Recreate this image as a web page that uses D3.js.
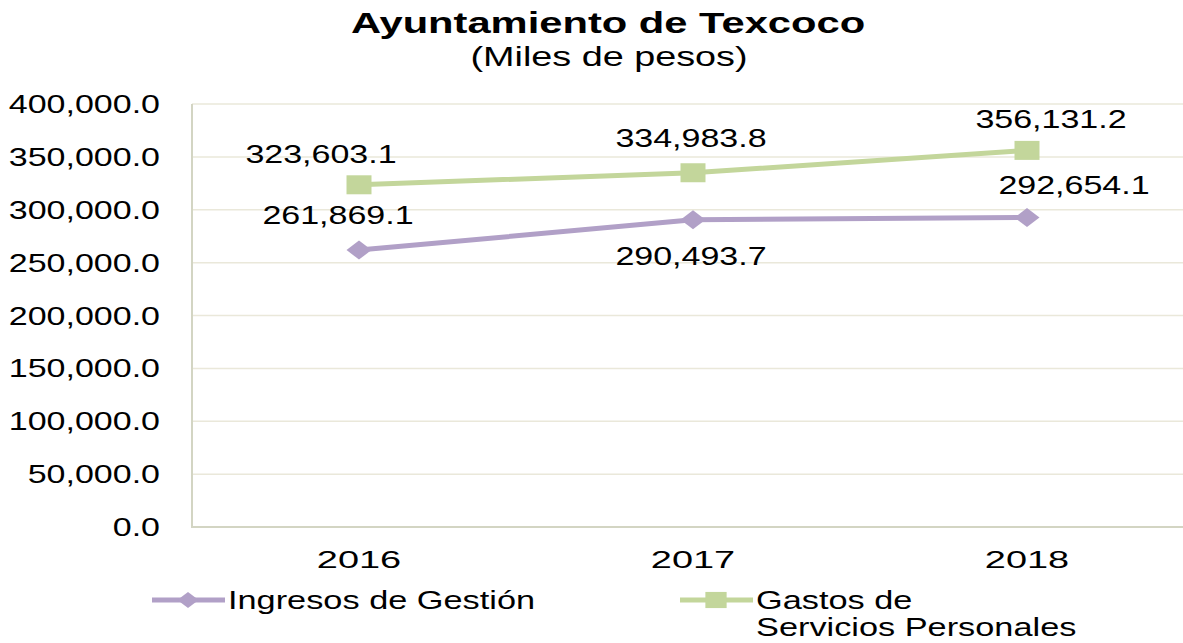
<!DOCTYPE html>
<html>
<head>
<meta charset="utf-8">
<script src="https://cdn.jsdelivr.net/npm/d3@7"></script>
<style>
  body { margin: 0; background: #fff; }
  text { font-family: "Liberation Sans", Arial, sans-serif; fill: #000; }
</style>
</head>
<body>
<svg id="chart" width="1183" height="643"></svg>
<script>
// chart data
const years = ["2016", "2017", "2018"];
const ingresos = [261869.1, 290493.7, 292654.1];
const gastos = [323603.1, 334983.8, 356131.2];
const yTicks = [0, 50000, 100000, 150000, 200000, 250000, 300000, 350000, 400000];
const seriesNames = ["Ingresos de Gestión", "Gastos de Servicios Personales"];

const svg = d3.select("#chart");
const W = 1183, H = 643;
const sx = 1.36; // text in the picture is stretched horizontally

const x = d3.scaleBand().domain(years).range([192, 1194]);
const y = d3.scaleLinear().domain([0, 400000]).range([527, 104]);
const fmt = d3.format(",.1f");

// helper for stretched text
function stretchedText(g, str, px, py, size, anchor, weight, k) {
    return g.append("text")
        .attr("transform", `translate(${px},${py}) scale(${k || sx},1)`)
        .attr("text-anchor", anchor)
        .attr("font-size", size)
        .attr("font-weight", weight || "normal")
        .text(str);
}

// title
stretchedText(svg, "Ayuntamiento de Texcoco", 608, 33, 30, "middle", "bold", 1.39);
stretchedText(svg, "(Miles de pesos)", 609, 66, 27, "middle", "normal", 1.40);

// gridlines
svg.append("g").selectAll("line")
    .data(yTicks.filter(d => d > 0))
    .join("line")
    .attr("x1", 192).attr("x2", W)
    .attr("y1", d => y(d)).attr("y2", d => y(d))
    .attr("stroke", "#EAE8DA").attr("stroke-width", 1.5);

// axes lines
svg.append("line").attr("x1", 192).attr("x2", 192).attr("y1", y(400000)).attr("y2", y(0))
    .attr("stroke", "#D3D5C3").attr("stroke-width", 2);
svg.append("line").attr("x1", 191).attr("x2", W).attr("y1", y(0)).attr("y2", y(0))
    .attr("stroke", "#D3D5C3").attr("stroke-width", 2);

// y tick labels
const yl = svg.append("g");
yTicks.forEach(t => {
    stretchedText(yl, fmt(t), 160, y(t) + 9, 25, "end");
});

// x tick labels
const xl = svg.append("g");
years.forEach(yr => {
    stretchedText(xl, yr, x(yr) + x.bandwidth() / 2, 568, 24, "middle", "normal", 1.58);
});

const cx = d => x(d) + x.bandwidth() / 2;
const line = d3.line().x(d => cx(d.year)).y(d => y(d.value));

const diamond = "M0,-9.5 L12.5,0 L0,9.5 L-12.5,0 Z";
const square = "M-12.5,-9.5 H12.5 V9.5 H-12.5 Z";

const series = [
    { name: seriesNames[0], values: ingresos, color: "#B1A0C7", marker: diamond,
      labelOffsets: [[-21, -26], [-2, 45], [47, -24]] },
    { name: seriesNames[1], values: gastos, color: "#C3D69B", marker: square,
      labelOffsets: [[-38, -22], [-2, -26], [24, -22]] }
];

series.forEach(s => {
    const pts = years.map((yr, i) => ({ year: yr, value: s.values[i] }));
    svg.append("path").datum(pts)
        .attr("d", line)
        .attr("fill", "none")
        .attr("stroke", s.color)
        .attr("stroke-width", 5)
        .attr("stroke-linejoin", "round");
    svg.append("g").selectAll("path")
        .data(pts)
        .join("path")
        .attr("d", s.marker)
        .attr("transform", d => `translate(${cx(d.year)},${y(d.value)})`)
        .attr("fill", s.color);
    const lg = svg.append("g");
    pts.forEach((d, i) => {
        const [dx, dy] = s.labelOffsets[i];
        stretchedText(lg, fmt(d.value), cx(d.year) + dx, y(d.value) + dy, 25, "middle");
    });
});

// legend
const legend = svg.append("g");
const legendItems = [
    { s: series[0], x0: 152, lines: ["Ingresos de Gestión"] },
    { s: series[1], x0: 680, lines: ["Gastos de", "Servicios Personales"] }
];
legendItems.forEach(it => {
    legend.append("line")
        .attr("x1", it.x0).attr("x2", it.x0 + 73)
        .attr("y1", 600).attr("y2", 600)
        .attr("stroke", it.s.color).attr("stroke-width", 5);
    legend.append("path")
        .attr("d", it.s.marker)
        .attr("transform", `translate(${it.x0 + 36},600) scale(0.85)`)
        .attr("fill", it.s.color);
    it.lines.forEach((ln, j) => {
        stretchedText(legend, ln, it.x0 + 76, 609 + j * 27, 26, "start", "normal", 1.32);
    });
});
</script>
</body>
</html>
